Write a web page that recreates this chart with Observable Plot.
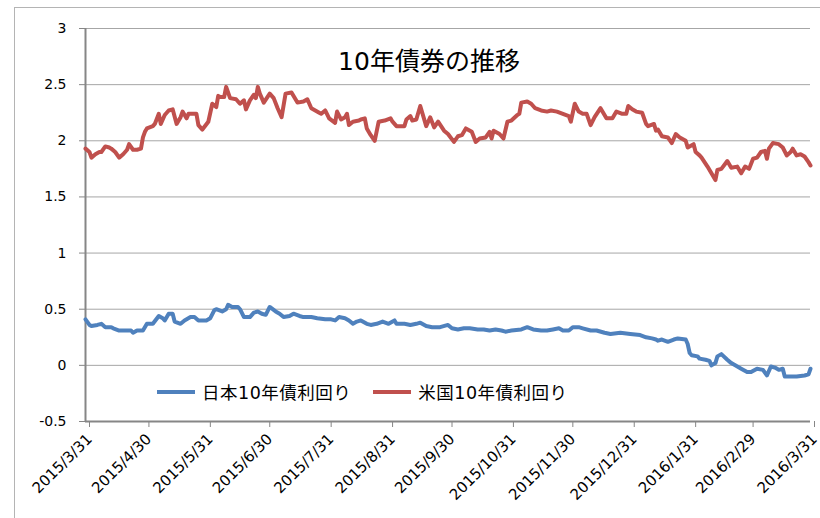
<!DOCTYPE html>
<html><head><meta charset="utf-8">
<script src="https://cdn.jsdelivr.net/npm/d3@7"></script>
<script src="https://cdn.jsdelivr.net/npm/@observablehq/plot@0.6"></script>
<style>
html,body{margin:0;padding:0;background:#fff;overflow:hidden;width:820px;height:518px}
#wrap{position:relative;width:820px;height:518px;font-family:"DejaVu Sans","Noto Sans CJK JP",sans-serif}
#wrap svg{position:absolute;left:0;top:0}
#border{position:absolute;left:14px;top:7px;width:840px;height:540px;border:1px solid #b4b4b4;box-sizing:border-box;pointer-events:none}
#legend{position:absolute;left:157px;top:379px;display:flex;align-items:center;font-size:17.5px;letter-spacing:0.5px;color:#000;white-space:nowrap}
#legend .sw{display:inline-block;width:38px;height:4px;margin-right:7px}
#legend .item{display:flex;align-items:center;margin-right:22px}
</style>
</head><body>
<div id="wrap"><div id="border"></div></div>
<script>
const title = "10年債券の推移";
const seriesNames = ["日本10年債利回り", "米国10年債利回り"];
const seriesColors = ["#4F81BD", "#C0504D"];
const yTicks = [-0.5, 0, 0.5, 1, 1.5, 2, 2.5, 3];
const xTickLabels = ["2015-03-31","2015-04-30","2015-05-31","2015-06-30","2015-07-31","2015-08-31","2015-09-30","2015-10-31","2015-11-30","2015-12-31","2016-01-31","2016-02-29","2016-03-31"];

const usDates = ["2015-03-31","2015-04-02","2015-04-03","2015-04-05","2015-04-07","2015-04-08","2015-04-10","2015-04-12","2015-04-13","2015-04-15","2015-04-17","2015-04-19","2015-04-21","2015-04-22","2015-04-24","2015-04-26","2015-04-28","2015-04-29","2015-04-30","2015-05-01","2015-05-04","2015-05-05","2015-05-07","2015-05-08","2015-05-10","2015-05-12","2015-05-14","2015-05-16","2015-05-18","2015-05-19","2015-05-21","2015-05-22","2015-05-26","2015-05-27","2015-05-29","2015-06-01","2015-06-03","2015-06-05","2015-06-06","2015-06-07","2015-06-09","2015-06-10","2015-06-12","2015-06-15","2015-06-17","2015-06-19","2015-06-20","2015-06-22","2015-06-24","2015-06-25","2015-06-26","2015-06-27","2015-06-29","2015-07-02","2015-07-04","2015-07-06","2015-07-08","2015-07-10","2015-07-13","2015-07-16","2015-07-19","2015-07-21","2015-07-23","2015-07-27","2015-07-28","2015-07-30","2015-08-01","2015-08-04","2015-08-05","2015-08-07","2015-08-09","2015-08-10","2015-08-11","2015-08-13","2015-08-16","2015-08-17","2015-08-19","2015-08-20","2015-08-22","2015-08-24","2015-08-26","2015-08-29","2015-09-01","2015-09-02","2015-09-04","2015-09-08","2015-09-09","2015-09-11","2015-09-12","2015-09-14","2015-09-16","2015-09-19","2015-09-21","2015-09-23","2015-09-25","2015-09-28","2015-09-30","2015-10-03","2015-10-05","2015-10-07","2015-10-09","2015-10-12","2015-10-14","2015-10-16","2015-10-19","2015-10-21","2015-10-22","2015-10-23","2015-10-26","2015-10-28","2015-10-30","2015-11-01","2015-11-04","2015-11-05","2015-11-06","2015-11-09","2015-11-11","2015-11-13","2015-11-16","2015-11-19","2015-11-21","2015-11-24","2015-11-27","2015-11-30","2015-12-01","2015-12-03","2015-12-05","2015-12-07","2015-12-09","2015-12-11","2015-12-13","2015-12-16","2015-12-19","2015-12-22","2015-12-24","2015-12-27","2015-12-29","2015-12-30","2016-01-01","2016-01-03","2016-01-06","2016-01-08","2016-01-09","2016-01-12","2016-01-13","2016-01-14","2016-01-16","2016-01-19","2016-01-21","2016-01-23","2016-01-25","2016-01-28","2016-01-29","2016-02-01","2016-02-02","2016-02-04","2016-02-05","2016-02-08","2016-02-10","2016-02-12","2016-02-13","2016-02-15","2016-02-18","2016-02-20","2016-02-23","2016-02-25","2016-02-27","2016-02-29","2016-03-02","2016-03-04","2016-03-06","2016-03-08","2016-03-09","2016-03-10","2016-03-12","2016-03-15","2016-03-17","2016-03-19","2016-03-21","2016-03-22","2016-03-24","2016-03-26","2016-03-28","2016-03-30","2016-03-31"];
const usYields = [1.93,1.90,1.85,1.88,1.90,1.90,1.95,1.94,1.93,1.90,1.85,1.88,1.92,1.97,1.92,1.92,1.93,2.03,2.08,2.11,2.13,2.15,2.24,2.15,2.23,2.27,2.28,2.15,2.21,2.26,2.20,2.24,2.24,2.14,2.10,2.17,2.33,2.30,2.40,2.39,2.39,2.48,2.38,2.37,2.33,2.36,2.28,2.36,2.41,2.38,2.48,2.42,2.34,2.42,2.38,2.29,2.21,2.42,2.43,2.34,2.35,2.37,2.29,2.25,2.24,2.27,2.20,2.16,2.26,2.19,2.21,2.24,2.14,2.17,2.18,2.19,2.20,2.11,2.05,2.00,2.17,2.18,2.20,2.17,2.13,2.13,2.19,2.22,2.18,2.19,2.31,2.13,2.21,2.12,2.17,2.09,2.06,1.99,2.04,2.05,2.11,2.08,1.99,2.02,2.03,2.08,2.02,2.09,2.06,2.02,2.17,2.18,2.23,2.24,2.34,2.35,2.33,2.29,2.27,2.26,2.27,2.26,2.24,2.22,2.17,2.33,2.26,2.24,2.24,2.14,2.21,2.29,2.20,2.20,2.26,2.24,2.24,2.31,2.28,2.26,2.25,2.15,2.13,2.15,2.09,2.10,2.04,2.03,1.98,2.06,2.03,2.00,1.94,1.97,1.90,1.87,1.85,1.77,1.71,1.65,1.74,1.75,1.82,1.76,1.77,1.71,1.77,1.75,1.84,1.85,1.90,1.91,1.84,1.93,1.98,1.97,1.94,1.87,1.90,1.93,1.87,1.88,1.86,1.81,1.78];

const jpDates = ["2015-03-31","2015-04-02","2015-04-03","2015-04-06","2015-04-08","2015-04-10","2015-04-13","2015-04-14","2015-04-17","2015-04-20","2015-04-23","2015-04-24","2015-04-26","2015-04-29","2015-05-01","2015-05-04","2015-05-07","2015-05-09","2015-05-10","2015-05-12","2015-05-14","2015-05-15","2015-05-18","2015-05-20","2015-05-23","2015-05-25","2015-05-27","2015-05-31","2015-06-02","2015-06-04","2015-06-05","2015-06-08","2015-06-10","2015-06-11","2015-06-13","2015-06-16","2015-06-17","2015-06-19","2015-06-22","2015-06-24","2015-06-26","2015-06-28","2015-06-30","2015-07-02","2015-07-05","2015-07-07","2015-07-09","2015-07-12","2015-07-14","2015-07-17","2015-07-19","2015-07-23","2015-07-26","2015-07-30","2015-08-02","2015-08-04","2015-08-06","2015-08-09","2015-08-11","2015-08-13","2015-08-15","2015-08-17","2015-08-20","2015-08-22","2015-08-25","2015-08-28","2015-08-31","2015-09-03","2015-09-04","2015-09-08","2015-09-11","2015-09-14","2015-09-16","2015-09-19","2015-09-22","2015-09-26","2015-09-30","2015-10-02","2015-10-05","2015-10-08","2015-10-11","2015-10-15","2015-10-18","2015-10-21","2015-10-24","2015-10-27","2015-10-29","2015-11-01","2015-11-06","2015-11-09","2015-11-12","2015-11-16","2015-11-19","2015-11-22","2015-11-25","2015-11-27","2015-11-30","2015-12-02","2015-12-05","2015-12-07","2015-12-11","2015-12-14","2015-12-18","2015-12-21","2015-12-26","2015-12-31","2016-01-05","2016-01-08","2016-01-11","2016-01-13","2016-01-14","2016-01-16","2016-01-19","2016-01-22","2016-01-24","2016-01-28","2016-01-29","2016-01-30","2016-01-31","2016-02-03","2016-02-04","2016-02-07","2016-02-09","2016-02-10","2016-02-12","2016-02-13","2016-02-15","2016-02-18","2016-02-20","2016-02-22","2016-02-25","2016-02-28","2016-03-01","2016-03-04","2016-03-07","2016-03-09","2016-03-11","2016-03-13","2016-03-15","2016-03-17","2016-03-18","2016-03-21","2016-03-24","2016-03-28","2016-03-30","2016-03-31"];
const jpYields = [0.41,0.36,0.35,0.36,0.37,0.34,0.34,0.33,0.31,0.31,0.31,0.29,0.31,0.31,0.37,0.37,0.44,0.42,0.40,0.46,0.46,0.39,0.37,0.40,0.43,0.43,0.40,0.40,0.42,0.49,0.50,0.48,0.50,0.54,0.52,0.52,0.50,0.43,0.43,0.47,0.48,0.46,0.45,0.52,0.48,0.46,0.43,0.44,0.46,0.44,0.43,0.43,0.42,0.41,0.41,0.40,0.43,0.42,0.40,0.37,0.39,0.40,0.37,0.36,0.37,0.39,0.37,0.40,0.37,0.37,0.36,0.37,0.38,0.35,0.34,0.34,0.36,0.33,0.32,0.33,0.33,0.32,0.32,0.31,0.32,0.31,0.30,0.31,0.32,0.34,0.32,0.31,0.31,0.32,0.33,0.31,0.31,0.34,0.34,0.33,0.31,0.31,0.29,0.28,0.29,0.28,0.27,0.25,0.24,0.23,0.22,0.23,0.21,0.23,0.24,0.23,0.19,0.11,0.09,0.08,0.06,0.05,0.04,0.00,0.02,0.08,0.10,0.05,0.02,0.00,-0.03,-0.06,-0.06,-0.03,-0.04,-0.09,-0.01,-0.02,-0.04,-0.03,-0.10,-0.10,-0.10,-0.09,-0.08,-0.03];

const parse = d3.utcParse("%Y-%m-%d");
const us = usDates.map((d, i) => ({date: parse(d), value: usYields[i]}));
const jp = jpDates.map((d, i) => ({date: parse(d), value: jpYields[i]}));
const xTicks = xTickLabels.map(parse);
const fmt = d => `${d.getUTCFullYear()}/${d.getUTCMonth() + 1}/${d.getUTCDate()}`;
const axisGray = "#868686";

const chart = Plot.plot({
  width: 820,
  height: 518,
  marginLeft: 85,
  marginRight: 10,
  marginTop: 28,
  marginBottom: 97,
  style: {fontFamily: '"DejaVu Sans","Noto Sans CJK JP",sans-serif', fontSize: "14px", color: "#000", background: "transparent"},
  x: {type: "utc", domain: [xTicks[0], xTicks[xTicks.length - 1]]},
  y: {domain: [yTicks[0], yTicks[yTicks.length - 1]]},
  marks: [
    Plot.gridY(yTicks, {stroke: "#a6a6a6", strokeOpacity: 1, strokeWidth: 1}),
    Plot.axisY({ticks: yTicks, tickFormat: d => d.toString(), tickSize: 6, tickPadding: 13, stroke: axisGray, fill: "#000", fontSize: 14, label: null}),
    Plot.axisX({ticks: xTicks, tickFormat: fmt, tickRotate: -45, tickSize: 6, tickPadding: 9, dx: 4, stroke: axisGray, fill: "#000", fontSize: 15, label: null}),
    Plot.ruleX([xTicks[0]], {stroke: axisGray, strokeWidth: 2}),
    Plot.ruleY([yTicks[0]], {stroke: axisGray, strokeWidth: 2}),
    Plot.line(jp, {x: "date", y: "value", stroke: seriesColors[0], strokeWidth: 4, strokeLinejoin: "round", strokeLinecap: "round"}),
    Plot.line(us, {x: "date", y: "value", stroke: seriesColors[1], strokeWidth: 4, strokeLinejoin: "round", strokeLinecap: "round"}),
    Plot.text([title], {frameAnchor: "top", dy: 24, dx: -19, fontSize: 25, fill: "#000", fontFamily: '"DejaVu Sans","Noto Sans CJK JP",sans-serif', style: "letter-spacing:1.5px"})
  ]
});
const wrap = document.getElementById("wrap");
wrap.insertBefore(chart, wrap.firstChild);

const legend = document.createElement("div");
legend.id = "legend";
seriesNames.forEach((name, i) => {
  const item = document.createElement("span");
  item.className = "item";
  const sw = document.createElement("span");
  sw.className = "sw";
  sw.style.background = seriesColors[i];
  const t = document.createElement("span");
  t.textContent = name;
  item.appendChild(sw);
  item.appendChild(t);
  legend.appendChild(item);
});
wrap.appendChild(legend);
</script>
</body></html>
